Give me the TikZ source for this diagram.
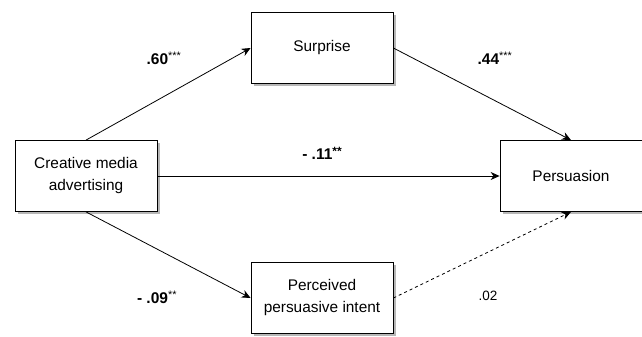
\documentclass[tikz,border=0pt]{standalone}
\usepackage{fontspec}
\setmainfont{Liberation Sans}
\usetikzlibrary{arrows.meta,shadows}

\tikzset{
	varbox/.style={rectangle,draw,thick,fill=white,align=center,
		minimum width=142pt,minimum height=71pt,inner sep=2pt,
		font=\fontsize{15.4}{22}\selectfont,
		drop shadow={shadow xshift=2.5pt,shadow yshift=-2.5pt,fill=black!40,opacity=0.7}},
	coef/.style={font=\fontsize{15.5}{18}\selectfont},
	path/.style={line width=0.8pt,-{Stealth[length=9pt,width=8pt]}}
}

\begin{document}
\begin{tikzpicture}[x=1pt,y=-1pt]
		\useasboundingbox (0,0) rectangle (642,337);
		
		\node[varbox] (creative) at (86,176) {Creative media\\advertising};
		\node[varbox] (surprise) at (322,48) {Surprise};
		\node[varbox] (persuasion) at (571,176) {Persuasion};
		\node[varbox] (intent) at (322,298) {Perceived\\persuasive intent};
		
		\node[coef] (c60) at (164,58) {\textbf{.60}\textsuperscript{***}};
		\node[coef] (c44) at (495,58) {\textbf{.44}\textsuperscript{***}};
		\node[coef] (c11) at (322,153) {\textbf{- .11\raisebox{4pt}{\fontsize{12}{12}\selectfont **}}};
		\node[coef] (c09) at (157,297) {\textbf{- .09}\textsuperscript{**}};
		\node[coef,font=\fontsize{13.5}{16}\selectfont] (c02) at (488,296) {.02};
		
		\draw[path] (creative.north) -- (surprise.west);
		\draw[path] (surprise.east) -- (persuasion.north);
		\draw[path] (creative.east) -- (persuasion.west);
		\draw[path] (creative.south) -- (intent.west);
		\draw[path,dash pattern=on 3pt off 3pt] (intent.east) -- (persuasion.south);
		\end{tikzpicture}
\end{document}
